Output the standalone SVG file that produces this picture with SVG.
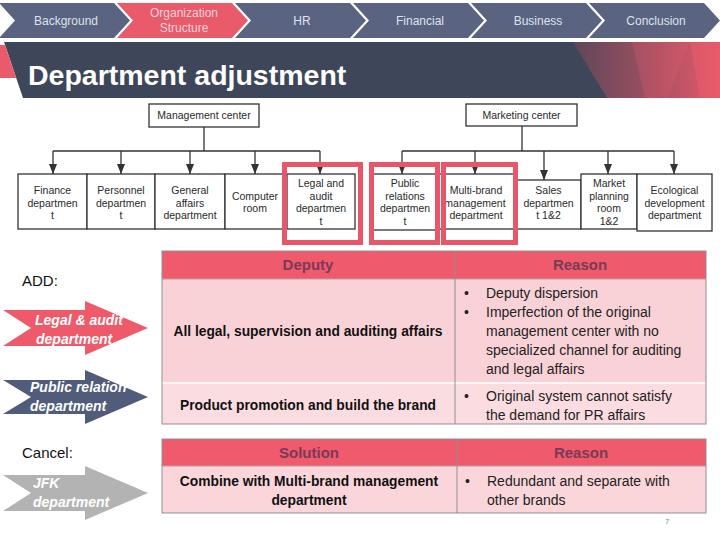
<svg xmlns="http://www.w3.org/2000/svg" width="720" height="540" viewBox="0 0 720 540">
<defs>
<style>
.nav{fill:#5a6480}
.navR{fill:#e95a6b}
.navT{font-family:"Liberation Sans",Arial,sans-serif;font-size:12px;fill:#dde2ec;text-anchor:middle}
.navTR{font-family:"Liberation Sans",Arial,sans-serif;font-size:12px;fill:#f8d3d8;text-anchor:middle}
.box{fill:#fff;stroke:#333;stroke-width:1.3}
.bt{font-family:"Liberation Sans",Arial,sans-serif;font-size:10.5px;fill:#2a2a2a;text-anchor:middle}
.con{fill:none;stroke:#333;stroke-width:1.3}
.hl{fill:none;stroke:#e8566a;stroke-width:5}
.th{fill:#ef5a6c}
.hdr{font-family:"Liberation Sans",Arial,sans-serif;font-size:15px;font-weight:bold;fill:#7a3a56;text-anchor:middle}
.cellB{font-family:"Liberation Sans",Arial,sans-serif;font-size:13.8px;font-weight:bold;fill:#111;text-anchor:middle}
.cell{font-family:"Liberation Sans",Arial,sans-serif;font-size:14px;fill:#222}
.grid{fill:none;stroke:#8f8f8f;stroke-width:1}
.lbl{font-family:"Liberation Sans",Arial,sans-serif;font-size:15px;fill:#111}
.at{font-family:"Liberation Sans",Arial,sans-serif;font-size:14px;font-weight:bold;font-style:italic;fill:#fff}
</style>
<marker id="ah" markerUnits="userSpaceOnUse" markerWidth="10" markerHeight="8" refX="10" refY="4" orient="auto">
<path d="M0,0 L10,4 L0,8 Z" fill="#333"/>
</marker>
<linearGradient id="bg" x1="0" y1="0" x2="1" y2="0">
<stop offset="0" stop-color="#5e4759"/>
<stop offset="0.5" stop-color="#9a4f60"/>
<stop offset="1" stop-color="#e75a6b"/>
</linearGradient>
</defs>
<rect x="0" y="0" width="720" height="540" fill="#fff"/>

<g id="nav">
<polygon class="nav" points="-1,3 114,3 130,20.5 114,38 -1,38 15,20.5"/>
<polygon class="navR" points="117,3 232,3 248,20.5 232,38 117,38 133,20.5"/>
<polygon class="nav" points="235,3 350,3 366,20.5 350,38 235,38 251,20.5"/>
<polygon class="nav" points="353,3 468,3 484,20.5 468,38 353,38 369,20.5"/>
<polygon class="nav" points="471,3 586,3 602,20.5 586,38 471,38 487,20.5"/>
<polygon class="nav" points="589,3 704,3 720,20.5 704,38 589,38 605,20.5"/>
<text class="navT" x="66" y="25">Background</text>
<text class="navTR" x="184" y="17">Organization</text>
<text class="navTR" x="184" y="32">Structure</text>
<text class="navT" x="302" y="25">HR</text>
<text class="navT" x="420" y="25">Financial</text>
<text class="navT" x="538" y="25">Business</text>
<text class="navT" x="656" y="25">Conclusion</text>
</g>

<g id="banner">
<polygon points="4,42 720,42 720,98 23,98" fill="#3e4659"/>
<polygon points="0,45 5,45 16.2,78 0,78" fill="#e95a6b"/>
<polygon points="573,42 720,42 720,98 607,98" fill="url(#bg)"/>
<polygon points="632,42 690,42 668,98 645,98" fill="#e85a6a" opacity="0.25"/>
<polygon points="690,42 720,42 720,98 700,98" fill="#ec5b6c" opacity="0.5"/>
<text x="28" y="85" font-family="Liberation Sans, Arial, sans-serif" font-size="28.5" font-weight="bold" fill="#fff">Department adjustment</text>
</g>

<g id="connectors">
<path class="con" d="M204,127 V151 M53,151 H320 M522,126 V151 M402,151 H674"/>
<path class="con" marker-end="url(#ah)" d="M53,151 V174"/>
<path class="con" marker-end="url(#ah)" d="M121,151 V174"/>
<path class="con" marker-end="url(#ah)" d="M190,151 V174"/>
<path class="con" marker-end="url(#ah)" d="M255,151 V174"/>
<path class="con" marker-end="url(#ah)" d="M320,151 V174"/>
<path class="con" marker-end="url(#ah)" d="M402,151 V174"/>
<path class="con" marker-end="url(#ah)" d="M475,151 V174"/>
<path class="con" marker-end="url(#ah)" d="M544,151 V180"/>
<path class="con" marker-end="url(#ah)" d="M608,151 V174"/>
<path class="con" marker-end="url(#ah)" d="M674,151 V174"/>
</g>

<g id="mgmt-center"><rect class="box" x="149" y="104" width="110" height="23"/><text class="bt" x="204" y="119">Management center</text></g>
<g id="mkt-center"><rect class="box" x="466" y="104" width="111" height="22"/><text class="bt" x="521.5" y="119">Marketing center</text></g>

<g id="finance"><rect class="box" x="18" y="174" width="69" height="55"/><text class="bt" x="52.5" y="194">Finance</text><text class="bt" x="52.5" y="206.5">departmen</text><text class="bt" x="52.5" y="219">t</text></g>
<g id="personnel"><rect class="box" x="87" y="174" width="68" height="55"/><text class="bt" x="121" y="194">Personnel</text><text class="bt" x="121" y="206.5">departmen</text><text class="bt" x="121" y="219">t</text></g>
<g id="general"><rect class="box" x="155" y="174" width="70" height="55"/><text class="bt" x="190" y="194">General</text><text class="bt" x="190" y="206.5">affairs</text><text class="bt" x="190" y="219">department</text></g>
<g id="computer"><rect class="box" x="225" y="174" width="60" height="55"/><text class="bt" x="255" y="200">Computer</text><text class="bt" x="255" y="212">room</text></g>
<g id="legal"><rect class="box" x="287" y="174" width="68" height="55"/><text class="bt" x="321" y="187">Legal and</text><text class="bt" x="321" y="199.5">audit</text><text class="bt" x="321" y="212">departmen</text><text class="bt" x="321" y="224.5">t</text></g>
<g id="public"><rect class="box" x="373" y="174" width="64" height="56"/><text class="bt" x="405" y="187">Public</text><text class="bt" x="405" y="199.5">relations</text><text class="bt" x="405" y="212">departmen</text><text class="bt" x="405" y="224.5">t</text></g>
<g id="multibrand"><rect class="box" x="437" y="174" width="79" height="55"/><text class="bt" x="476" y="194">Multi-brand</text><text class="bt" x="475" y="206.5">management</text><text class="bt" x="476" y="219">department</text></g>
<g id="sales"><rect class="box" x="516" y="180" width="65" height="49"/><text class="bt" x="548.5" y="194">Sales</text><text class="bt" x="548.5" y="206.5">departmen</text><text class="bt" x="548.5" y="219">t 1&amp;2</text></g>
<g id="market"><rect class="box" x="581" y="174" width="56" height="55"/><text class="bt" x="609" y="187">Market</text><text class="bt" x="609" y="199.5">planning</text><text class="bt" x="609" y="212">room</text><text class="bt" x="609" y="224.5">1&amp;2</text></g>
<g id="ecological"><rect class="box" x="637" y="174" width="75" height="57"/><text class="bt" x="674.5" y="194">Ecological</text><text class="bt" x="674.5" y="206.5">development</text><text class="bt" x="674.5" y="219">department</text></g>

<g id="highlights">
<rect class="hl" x="284.5" y="164.5" width="76" height="78"/>
<rect class="hl" x="371.5" y="164.5" width="66" height="78"/>
<rect class="hl" x="443.5" y="164.5" width="72" height="78"/>
</g>

<g id="add-label"><text class="lbl" x="22" y="285.5">ADD:</text></g>
<g id="arrow-legal"><path d="M3,310 L85,310 L85,301 L148,328 L85,355 L85,346 L3,346 L31,328 Z" fill="#ef5a6b"/><text class="at" x="35" y="325">Legal &amp; audit</text><text class="at" x="36" y="344">department</text></g>
<g id="arrow-pr"><path d="M3,380 L85,380 L85,370 L148,397 L85,424 L85,414 L3,414 L31,397 Z" fill="#505c7a"/><text class="at" x="30" y="392">Public relation</text><text class="at" x="30" y="411">department</text></g>
<g id="cancel-label"><text class="lbl" x="22" y="458">Cancel:</text></g>
<g id="arrow-jfk"><path d="M3,475 L85,475 L85,466 L148,493 L85,520 L85,511 L3,511 L31,493 Z" fill="#b3b3b3"/><text class="at" x="33" y="488">JFK</text><text class="at" x="33" y="507">department</text></g>

<g id="table-add">
<rect class="th" x="162" y="251" width="544" height="28"/>
<rect x="162" y="279" width="544" height="104" fill="#f9d2d8"/>
<rect x="162" y="383" width="544" height="41" fill="#fbdde1"/>
<line x1="162" y1="279" x2="706" y2="279" stroke="#b5a0a4" stroke-width="1"/>
<line x1="162" y1="383" x2="706" y2="383" stroke="#fff" stroke-width="1.5"/>
<rect class="grid" x="162" y="251" width="544" height="173"/>
<line class="grid" x1="455" y1="251" x2="455" y2="424"/>
<text class="hdr" x="308" y="270">Deputy</text>
<text class="hdr" x="580" y="270">Reason</text>
<text class="cellB" x="308" y="336">All legal, supervision and auditing affairs</text>
<text class="cell" x="464" y="298">•</text><text class="cell" x="486" y="298">Deputy dispersion</text>
<text class="cell" x="464" y="317">•</text><text class="cell" x="486" y="317">Imperfection of the original</text>
<text class="cell" x="486" y="336">management center with no</text>
<text class="cell" x="486" y="355">specialized channel for auditing</text>
<text class="cell" x="486" y="374">and legal affairs</text>
<text class="cellB" x="308" y="410">Product promotion and build the brand</text>
<text class="cell" x="464" y="401">•</text><text class="cell" x="486" y="401">Original system cannot satisfy</text>
<text class="cell" x="486" y="420">the demand for PR affairs</text>
</g>

<g id="table-cancel">
<rect class="th" x="162" y="439" width="544" height="27"/>
<rect x="162" y="466" width="544" height="47" fill="#fad6db"/>
<line x1="162" y1="466" x2="706" y2="466" stroke="#b5a0a4" stroke-width="1"/>
<rect class="grid" x="162" y="439" width="544" height="74"/>
<line class="grid" x1="457" y1="439" x2="457" y2="513"/>
<text class="hdr" x="309" y="458">Solution</text>
<text class="hdr" x="581" y="458">Reason</text>
<text class="cellB" x="309" y="486">Combine with Multi-brand management</text>
<text class="cellB" x="309" y="505">department</text>
<text class="cell" x="465" y="486">•</text><text class="cell" x="487" y="486">Redundant and separate with</text>
<text class="cell" x="487" y="505">other brands</text>
</g>

<text x="665" y="524" font-family="Liberation Sans, Arial, sans-serif" font-size="8" fill="#8a8a8a">7</text>
</svg>
